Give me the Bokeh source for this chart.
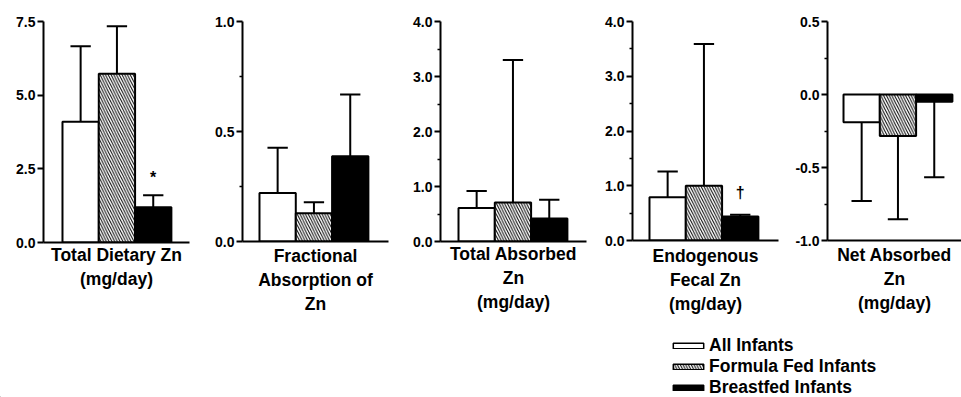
from bokeh.plotting import figure
from bokeh.layouts import row, column
from bokeh.models import (FixedTicker, NumeralTickFormatter, Range1d, Legend,
                          LegendItem, ColumnDataSource)
from bokeh.core.properties import value
from bokeh.embed import file_html
from bokeh.resources import INLINE

FONT = "Liberation Sans"

# ---------------- data ----------------
groups = ["All Infants", "Formula Fed Infants", "Breastfed Infants"]
positions = [1, 2, 3]

dietary_mean = [4.10, 5.73, 1.20]
dietary_sd = [2.56, 1.61, 0.40]
fractional_mean = [0.22, 0.128, 0.388]
fractional_sd = [0.206, 0.05, 0.28]
absorbed_mean = [0.61, 0.71, 0.42]
absorbed_sd = [0.31, 2.59, 0.34]
fecal_mean = [0.79, 1.00, 0.44]
fecal_sd = [0.47, 2.59, 0.03]
net_mean = [-0.19, -0.285, -0.05]
net_sd = [0.54, 0.57, 0.516]

titles = ["Total Dietary Zn\n(mg/day)",
          "Fractional\nAbsorption of\nZn",
          "Total Absorbed\nZn\n(mg/day)",
          "Endogenous\nFecal Zn\n(mg/day)",
          "Net Absorbed\nZn\n(mg/day)"]

y_ranges = [(0, 7.5), (0, 1.0), (0, 4.0), (0, 4.0), (-1.0, 0.5)]
major_ticks = [[0, 2.5, 5.0, 7.5], [0, 0.5, 1.0], [0, 1, 2, 3, 4], [0, 1, 2, 3, 4],
               [-1.0, -0.5, 0.0, 0.5]]
minor_ticks = [[], [0.25, 0.75], [0.5, 1.5, 2.5, 3.5], [0.5, 1.5, 2.5, 3.5],
               [-0.75, -0.25, 0.25]]

# significance marks
mark_panel = [0, 3]
mark_x = [3, 3]
mark_y = [2.22, 0.87]
mark_text = ["*", "\u2020"]

means = [dietary_mean, fractional_mean, absorbed_mean, fecal_mean, net_mean]
sds = [dietary_sd, fractional_sd, absorbed_sd, fecal_sd, net_sd]

# ---------------- styles ----------------
fills = ["white", "white", "black"]
hatches = [" ", "\\", " "]
HATCH_SCALE = 5.5
HATCH_WEIGHT = 1

ROW_H = 318
BAR_PX = 36.3
layout = [
    dict(l=43, r=10, t=17, fw=146, fh=221, x0=-0.023, so=2),
    dict(l=43, r=10, t=18, fw=146, fh=220, x0=0.032, so=4),
    dict(l=42, r=6, t=19, fw=146, fh=220, x0=0.004, so=2),
    dict(l=40, r=9, t=20, fw=146, fh=219, x0=0.032, so=5),
    dict(l=40, r=0, t=21, fw=134, fh=219, x0=0.059, so=4),
]

figs = []
for i in range(5):
    c = layout[i]
    p = figure(frame_width=c["fw"], frame_height=c["fh"],
               x_range=Range1d(c["x0"], c["x0"] + c["fw"] / BAR_PX),
               y_range=Range1d(*y_ranges[i]),
               min_border_left=c["l"], min_border_right=c["r"],
               min_border_top=c["t"], min_border_bottom=ROW_H - c["t"] - c["fh"],
               output_backend="svg", toolbar_location=None)
    p.outline_line_color = None
    p.xgrid.visible = False
    p.ygrid.visible = False

    m = means[i]
    s = sds[i]
    ends = [mv + (sv if mv >= 0 else -sv) for mv, sv in zip(m, s)]
    src = ColumnDataSource(dict(x=positions, top=m, fill=fills, hatch=hatches))
    p.vbar(x="x", top="top", bottom=0, width=1.0, source=src,
           fill_color="fill", hatch_pattern="hatch", hatch_color="black",
           hatch_scale=HATCH_SCALE, hatch_weight=HATCH_WEIGHT,
           line_color="black", line_width=2)
    esrc = ColumnDataSource(dict(x=positions, y0=m, y1=ends,
                                 cl=[x - 0.28 for x in positions],
                                 cr=[x + 0.28 for x in positions]))
    p.segment(x0="x", y0="y0", x1="x", y1="y1", source=esrc,
              line_color="black", line_width=2)
    p.segment(x0="cl", y0="y1", x1="cr", y1="y1", source=esrc,
              line_color="black", line_width=2)

    for k in range(len(mark_panel)):
        if mark_panel[k] == i:
            p.text(x=[mark_x[k]], y=[mark_y[k]], text=[mark_text[k]],
                   text_align="center", text_baseline="middle",
                   text_font=value(FONT), text_font_style="bold",
                   text_font_size="16px", text_color="black")

    ya = p.yaxis[0]
    ya.ticker = FixedTicker(ticks=major_ticks[i], minor_ticks=minor_ticks[i])
    ya.formatter = NumeralTickFormatter(format="0.0")
    ya.axis_line_width = 2
    ya.major_tick_line_width = 2
    ya.major_tick_out = 6
    ya.major_tick_in = 0
    ya.minor_tick_out = 3
    ya.minor_tick_in = 0
    ya.minor_tick_line_width = 1.5
    ya.major_label_standoff = 2
    ya.major_label_text_font = FONT
    ya.major_label_text_font_style = "bold"
    ya.major_label_text_font_size = "14px"
    ya.major_label_text_color = "black"

    xa = p.xaxis[0]
    xa.ticker = FixedTicker(ticks=[])
    xa.axis_line_width = 2
    xa.major_tick_out = 0
    xa.major_tick_in = 0
    xa.axis_label = titles[i]
    xa.axis_label_standoff = c["so"]
    xa.axis_label_text_font = FONT
    xa.axis_label_text_font_style = "bold"
    xa.axis_label_text_font_size = "17.5px"
    xa.axis_label_text_color = "black"
    xa.axis_label_text_line_height = 1.2
    figs.append(p)

# ---------------- legend ----------------
LEG_H = 397 - ROW_H
lg = figure(width=961, height=LEG_H, x_range=Range1d(0, 1), y_range=Range1d(0, 1),
            min_border=0, output_backend="svg", toolbar_location=None)
lg.axis.visible = False
lg.xgrid.visible = False
lg.ygrid.visible = False
lg.outline_line_color = None
items = []
for g, f, h in zip(groups, fills, hatches):
    # off-screen swatch renderer used only for the legend entry
    r = lg.vbar(x=[-10], top=[0], width=1, fill_color=f, hatch_pattern=h,
                hatch_color="black", hatch_scale=HATCH_SCALE, hatch_weight=HATCH_WEIGHT,
                line_color="black", line_width=1.5)
    items.append(LegendItem(label=g, renderers=[r]))
leg = Legend(items=items, location=(669, -1), orientation="vertical",
             glyph_width=38, glyph_height=7, label_height=20, spacing=0,
             padding=0, margin=0, label_standoff=2,
             label_text_font=FONT, label_text_font_style="bold",
             label_text_font_size="17.5px", label_text_color="black",
             border_line_color=None, background_fill_alpha=0)
lg.add_layout(leg, "center")

layout_all = column(row(*figs, spacing=0), lg, spacing=0)
open("out.html", "w").write(file_html(layout_all, INLINE))
